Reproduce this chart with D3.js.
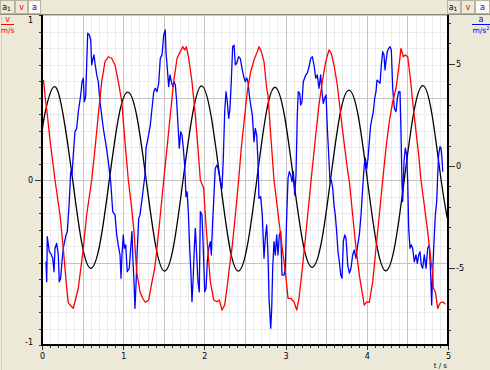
<!DOCTYPE html>
<html lang="en">
<head>
<meta charset="utf-8">
<script src="https://d3js.org/d3.v7.min.js"></script>
<style>
  body { margin: 0; background: #ece9d8; }
  text { font-family: "DejaVu Sans", sans-serif; font-size: 8px; }
  .grid-minor { stroke: #ebebeb; shape-rendering: crispEdges; }
  .grid-major { stroke: #c4c4c4; shape-rendering: crispEdges; }
  .axis line { stroke: #333; shape-rendering: crispEdges; }
  .axis path { display: none; }
  .frame { stroke: black; stroke-width: 2; shape-rendering: crispEdges; }
  .tab { stroke: #b9b5a0; shape-rendering: crispEdges; }
  .series { fill: none; stroke-width: 1.3; stroke-linejoin: round; }
</style>
</head>
<body>
<svg width="490" height="370" id="svg-container"></svg>
<script>
// time axis (s)
const timeTicks = [0, 1, 2, 3, 4, 5];
// left axis v (m/s), right axis a (m/s^2)
const vLabels = [-1, 0, 1];
const aLabels = [-5, 0, 5];

// v(t), red
const vData = [[0.018,0.606],[0.043,0.485],[0.062,0.412],[0.099,0.242],[0.160,0.000],[0.222,-0.212],[0.262,-0.414],[0.304,-0.655],[0.324,-0.745],[0.366,-0.768],[0.385,-0.778],[0.406,-0.738],[0.447,-0.656],[0.509,-0.414],[0.550,-0.212],[0.612,0],[0.653,0.192],[0.693,0.394],[0.735,0.596],[0.776,0.717],[0.817,0.747],[0.858,0.738],[0.899,0.697],[0.940,0.596],[0.982,0.475],[1.022,0.232],[1.063,0],[1.105,-0.172],[1.133,-0.313],[1.166,-0.556],[1.207,-0.677],[1.240,-0.717],[1.272,-0.741],[1.314,-0.727],[1.355,-0.616],[1.388,-0.535],[1.416,-0.414],[1.457,-0.212],[1.499,0],[1.539,0.192],[1.580,0.394],[1.622,0.596],[1.663,0.738],[1.703,0.778],[1.733,0.808],[1.757,0.788],[1.777,0.808],[1.807,0.738],[1.847,0.596],[1.888,0.394],[1.921,0.192],[1.950,0],[1.991,-0.050],[2.011,-0.212],[2.041,-0.414],[2.073,-0.616],[2.115,-0.727],[2.155,-0.738],[2.184,-0.727],[2.217,-0.788],[2.250,-0.758],[2.278,-0.656],[2.307,-0.535],[2.340,-0.414],[2.381,-0.212],[2.422,0],[2.454,0.192],[2.484,0.333],[2.528,0.535],[2.570,0.656],[2.611,0.727],[2.651,0.778],[2.672,0.808],[2.701,0.778],[2.734,0.717],[2.767,0.556],[2.783,0.515],[2.817,0.273],[2.857,0],[2.890,-0.132],[2.919,-0.253],[2.959,-0.414],[3.001,-0.576],[3.030,-0.717],[3.063,-0.717],[3.103,-0.738],[3.137,-0.788],[3.165,-0.717],[3.206,-0.535],[3.248,-0.333],[3.288,-0.132],[3.329,0.071],[3.371,0.273],[3.411,0.455],[3.452,0.596],[3.494,0.717],[3.534,0.788],[3.563,0.768],[3.596,0.697],[3.637,0.576],[3.679,0.394],[3.719,0.232],[3.760,0.071],[3.785,-0.010],[3.826,-0.212],[3.867,-0.414],[3.908,-0.576],[3.941,-0.677],[3.969,-0.758],[3.999,-0.738],[4.031,-0.741],[4.073,-0.616],[4.113,-0.414],[4.154,-0.212],[4.196,0],[4.236,0.192],[4.277,0.353],[4.319,0.475],[4.360,0.556],[4.393,0.677],[4.421,0.798],[4.450,0.747],[4.474,0.758],[4.504,0.747],[4.532,0.636],[4.565,0.475],[4.606,0.293],[4.639,0.152],[4.667,0],[4.708,-0.152],[4.750,-0.313],[4.791,-0.495],[4.811,-0.556],[4.819,-0.656],[4.844,-0.677],[4.873,-0.778],[4.901,-0.747],[4.935,-0.738],[4.967,-0.753]];

// a(t), blue, measured acceleration
const aData = [[0.049,-4.68],[0.058,-5.66],[0.065,-3.46],[0.090,-4.19],[0.107,-4.27],[0.132,-4.51],[0.148,-5.17],[0.160,-4.02],[0.181,-3.78],[0.201,-4.35],[0.213,-5.66],[0.230,-5.49],[0.246,-4.68],[0.262,-4.02],[0.296,-3.37],[0.312,-3.21],[0.336,-1.74],[0.353,-0.28],[0.369,-0.44],[0.385,0.54],[0.406,1.68],[0.427,1.84],[0.447,2.65],[0.459,2.98],[0.477,3.47],[0.493,4.12],[0.509,4.29],[0.521,3.14],[0.538,3.39],[0.550,4.94],[0.563,6.49],[0.583,6.40],[0.600,6.16],[0.612,4.94],[0.624,5.18],[0.640,5.43],[0.653,5.02],[0.674,4.45],[0.693,4.12],[0.714,3.14],[0.735,2.49],[0.755,1.84],[0.788,1.03],[0.817,0.21],[0.846,-0.77],[0.871,-2.23],[0.899,-2.39],[0.920,-3.37],[0.945,-4.02],[0.961,-4.35],[0.973,-5.49],[0.985,-4.35],[1.001,-3.37],[1.014,-4.02],[1.031,-3.86],[1.050,-5.17],[1.075,-5.00],[1.092,-4.02],[1.108,-3.21],[1.121,-4.68],[1.133,-5.66],[1.145,-6.96],[1.161,-5.49],[1.174,-4.02],[1.191,-2.56],[1.207,-2.39],[1.228,-1.74],[1.248,-1.09],[1.268,-0.44],[1.281,0.87],[1.305,1.35],[1.334,2.00],[1.355,2.82],[1.376,3.63],[1.395,3.80],[1.416,3.63],[1.437,4.04],[1.457,5.26],[1.478,5.43],[1.499,6.40],[1.518,6.65],[1.527,5.59],[1.543,4.78],[1.560,3.88],[1.576,4.45],[1.593,4.12],[1.610,3.88],[1.626,4.12],[1.642,3.96],[1.659,3.14],[1.675,2.00],[1.691,0.87],[1.708,1.68],[1.724,1.52],[1.740,0.87],[1.757,0.05],[1.773,-1.50],[1.786,-1.26],[1.802,-2.23],[1.819,-4.02],[1.835,-5.33],[1.847,-6.63],[1.860,-5.66],[1.876,-4.02],[1.888,-3.05],[1.905,-4.35],[1.921,-5.66],[1.937,-6.15],[1.950,-2.23],[1.970,-2.39],[1.986,-4.02],[2.004,-6.15],[2.020,-5.98],[2.036,-4.68],[2.053,-4.02],[2.073,-3.70],[2.085,-4.35],[2.102,-2.72],[2.118,-1.42],[2.134,-0.11],[2.155,0.05],[2.176,-0.28],[2.196,-0.77],[2.217,-1.09],[2.233,0.38],[2.250,2.65],[2.266,3.63],[2.282,3.14],[2.299,2.33],[2.315,2.82],[2.331,4.12],[2.348,5.83],[2.365,5.91],[2.381,4.94],[2.398,5.02],[2.422,5.34],[2.442,5.26],[2.463,4.78],[2.484,4.36],[2.504,4.12],[2.521,4.30],[2.537,4.12],[2.553,3.47],[2.570,2.98],[2.590,2.49],[2.611,1.19],[2.627,1.84],[2.644,1.52],[2.660,0.21],[2.672,-1.58],[2.693,-1.50],[2.713,-2.39],[2.734,-4.51],[2.750,-3.53],[2.767,-2.88],[2.783,-4.35],[2.796,-6.47],[2.817,-7.93],[2.829,-6.96],[2.841,-5.00],[2.857,-3.70],[2.873,-4.35],[2.890,-3.37],[2.906,-4.35],[2.923,-3.37],[2.940,-3.21],[2.956,-5.33],[2.980,-5.33],[2.996,-5.00],[3.014,-2.39],[3.030,-0.60],[3.046,-0.28],[3.063,-0.44],[3.079,-0.77],[3.095,-0.28],[3.112,-1.42],[3.128,-0.44],[3.144,2.49],[3.156,3.63],[3.174,3.55],[3.186,2.98],[3.202,3.14],[3.218,4.12],[3.248,4.45],[3.267,4.53],[3.288,4.85],[3.309,5.26],[3.329,5.34],[3.350,4.94],[3.371,4.29],[3.390,4.45],[3.411,3.80],[3.432,4.45],[3.448,3.63],[3.464,3.06],[3.481,3.31],[3.498,3.47],[3.514,1.84],[3.531,0.54],[3.547,-0.77],[3.563,-0.68],[3.580,-1.09],[3.596,-1.91],[3.612,-2.39],[3.629,-3.21],[3.645,-4.19],[3.662,-4.68],[3.679,-5.33],[3.695,-5.49],[3.711,-3.70],[3.728,-3.37],[3.744,-3.53],[3.765,-4.84],[3.785,-5.24],[3.805,-5.00],[3.826,-4.35],[3.846,-4.11],[3.867,-4.51],[3.888,-3.86],[3.908,-3.37],[3.929,-2.39],[3.949,-1.09],[3.969,0.05],[3.982,0.38],[3.999,-0.11],[4.015,0.38],[4.031,1.19],[4.048,2.00],[4.064,2.33],[4.080,2.65],[4.097,3.31],[4.113,3.63],[4.126,4.20],[4.146,4.12],[4.163,4.04],[4.179,4.94],[4.196,5.59],[4.212,5.43],[4.224,4.69],[4.236,5.10],[4.253,5.59],[4.270,5.75],[4.286,5.83],[4.302,5.67],[4.319,3.80],[4.339,2.82],[4.360,2.65],[4.376,3.31],[4.393,3.63],[4.409,3.63],[4.421,1.68],[4.433,-0.77],[4.442,-1.74],[4.458,0.21],[4.474,0.87],[4.491,0.54],[4.504,-0.77],[4.516,-3.05],[4.532,-4.02],[4.548,-3.86],[4.565,-4.02],[4.585,-4.68],[4.606,-4.35],[4.622,-4.76],[4.639,-4.35],[4.655,-4.19],[4.671,-4.84],[4.688,-5.00],[4.708,-4.35],[4.729,-5.00],[4.750,-4.02],[4.770,-3.86],[4.787,-5.33],[4.799,-6.79],[4.811,-5.17],[4.828,-3.70],[4.844,-2.39],[4.861,-1.74],[4.873,-0.44],[4.885,0.54],[4.901,0.94],[4.914,0.87],[4.926,0.38],[4.935,-0.28]];

// a1(t), black, smooth model curve (drawn on the v scale)
const a1Data = [[0,0.29],[0.035,0.40],[0.148,0.565],[0.262,0.39],[0.375,0.01],[0.489,-0.38],[0.602,-0.535],[0.716,-0.38],[0.829,0.0],[0.943,0.38],[1.056,0.532],[1.170,0.38],[1.283,0.0],[1.397,-0.39],[1.510,-0.552],[1.624,-0.39],[1.737,0.0],[1.851,0.39],[1.964,0.570],[2.078,0.40],[2.191,0.01],[2.305,-0.39],[2.418,-0.552],[2.532,-0.39],[2.645,0.0],[2.759,0.40],[2.872,0.562],[2.986,0.39],[3.099,0.0],[3.213,-0.38],[3.326,-0.529],[3.440,-0.38],[3.553,0.0],[3.667,0.39],[3.780,0.545],[3.894,0.39],[4.007,0.0],[4.121,-0.39],[4.234,-0.550],[4.348,-0.39],[4.461,0.0],[4.575,0.40],[4.688,0.572],[4.802,0.40],[4.915,0.0],[4.99,-0.23]];

let svg = d3.select("svg#svg-container");
const W = 490, H = 370;
const plot = { left: 42, right: 448, top: 15, bottom: 345 };

const x = d3.scaleLinear().domain([0, 5]).range([plot.left, plot.right]);
const yV = d3.scaleLinear().domain([-1, 1]).range([plot.bottom, plot.top]);
const yA = d3.scaleLinear().domain([-8.75, 7.38]).range([plot.bottom, plot.top]);

svg.append("rect").attr("width", W).attr("height", H).attr("fill", "#ece9d8");
svg.append("line").attr("x1", 1.5).attr("x2", 1.5).attr("y1", 15).attr("y2", H)
  .attr("stroke", "#d6d2bd");
svg.append("rect")
  .attr("x", plot.left).attr("y", plot.top)
  .attr("width", plot.right - plot.left).attr("height", plot.bottom - plot.top)
  .attr("fill", "white");

// grid
const grid = svg.append("g");
const tMinor = d3.range(0, 51).map(i => i / 10);
const vMinor = d3.range(-10, 11).map(i => i / 10);
grid.selectAll(".gx").data(tMinor).enter().append("line")
  .attr("class", d => Math.round(d * 10) % 5 === 0 ? "grid-major" : "grid-minor")
  .attr("x1", d => Math.round(x(d)) + 0.5).attr("x2", d => Math.round(x(d)) + 0.5)
  .attr("y1", plot.top).attr("y2", plot.bottom);
grid.selectAll(".gy").data(vMinor).enter().append("line")
  .attr("class", d => Math.round(d * 10) % 5 === 0 ? "grid-major" : "grid-minor")
  .attr("x1", plot.left).attr("x2", plot.right)
  .attr("y1", d => Math.round(yV(d)) + 0.5).attr("y2", d => Math.round(yV(d)) + 0.5);
grid.selectAll(".grid-major").raise();

// series
svg.append("clipPath").attr("id", "clip").append("rect")
  .attr("x", plot.left).attr("y", plot.top)
  .attr("width", plot.right - plot.left).attr("height", plot.bottom - plot.top);
const lines = svg.append("g").attr("clip-path", "url(#clip)");

lines.append("path").datum(a1Data).attr("class", "series").attr("stroke", "black")
  .attr("d", d3.line().x(d => x(d[0])).y(d => yV(d[1])).curve(d3.curveNatural));
lines.append("path").datum(aData).attr("class", "series").attr("stroke", "#0000ff")
  .attr("d", d3.line().x(d => x(d[0])).y(d => yA(d[1])));
lines.append("path").datum(vData).attr("class", "series").attr("stroke", "#ff0000")
  .attr("d", d3.line().x(d => x(d[0])).y(d => yV(d[1])));

// axes
const fmt = d => String(d);
svg.append("g").attr("class", "axis").attr("transform", `translate(${plot.left},0)`)
  .call(d3.axisLeft(yV).tickValues(vMinor).tickSize(3).tickFormat(""));
const leftMajor = svg.append("g").attr("class", "axis").attr("transform", `translate(${plot.left},0)`)
  .call(d3.axisLeft(yV).tickValues(vLabels).tickSize(7).tickPadding(2).tickFormat(fmt));
leftMajor.selectAll(".tick").filter(d => d !== 0).select("line").remove();
leftMajor.selectAll(".tick").filter(d => d === 1).select("text").attr("dy", "0.9em");
leftMajor.selectAll(".tick").filter(d => d === -1).select("text").attr("dy", "-0.1em");

svg.append("g").attr("class", "axis").attr("transform", `translate(0,${plot.bottom})`)
  .call(d3.axisBottom(x).tickValues(tMinor).tickSize(3).tickFormat(""));
svg.append("g").attr("class", "axis").attr("transform", `translate(0,${plot.bottom})`)
  .call(d3.axisBottom(x).tickValues(timeTicks).tickSize(5).tickPadding(3).tickFormat(fmt));

svg.append("g").attr("class", "axis").attr("transform", `translate(${plot.right},0)`)
  .call(d3.axisRight(yA).tickValues(d3.range(-8, 8)).tickSize(3).tickFormat(""));
svg.append("g").attr("class", "axis").attr("transform", `translate(${plot.right},0)`)
  .call(d3.axisRight(yA).tickValues(aLabels).tickSize(7).tickPadding(1).tickFormat(fmt));

svg.selectAll(".axis text").attr("fill", "black").style("font-size", "8px");

// frame
svg.append("line").attr("class", "frame").attr("x1", plot.left).attr("x2", plot.left)
  .attr("y1", plot.top).attr("y2", plot.bottom + 1);
svg.append("line").attr("class", "frame").attr("x1", plot.right).attr("x2", plot.right)
  .attr("y1", plot.top).attr("y2", plot.bottom + 1);
svg.append("line").attr("class", "frame").attr("x1", plot.left).attr("x2", plot.right + 1)
  .attr("y1", plot.bottom).attr("y2", plot.bottom);

svg.append("text").attr("x", 447).attr("y", 368).attr("text-anchor", "end")
  .style("font-size", "7px").text("t / s");

// tab bar
const bar = svg.append("g");
bar.append("rect").attr("width", W).attr("height", 14).attr("fill", "#ece9d8");
bar.append("line").attr("x1", 0).attr("x2", W).attr("y1", 14.5).attr("y2", 14.5)
  .attr("stroke", "#8f8c7e");
const tabs = [
  { x: 0, w: 15, name: "a", sub: "1", color: "black", active: false },
  { x: 15, w: 13, name: "v", color: "red", active: false },
  { x: 28, w: 13, name: "a", color: "blue", active: true },
  { x: 447, w: 14, name: "a", sub: "1", color: "black", active: false },
  { x: 461, w: 14, name: "v", color: "red", active: false },
  { x: 475, w: 15, name: "a", color: "blue", active: true }
];
tabs.forEach(t => {
  bar.append("rect").attr("class", "tab").attr("x", t.x + 0.5).attr("y", 0.5)
    .attr("width", t.w - 1).attr("height", 13)
    .attr("fill", t.active ? "#fbfbf8" : "#ece9d8");
  const label = bar.append("text").attr("x", t.x + t.w / 2 - (t.sub ? 1 : 0)).attr("y", 10)
    .attr("text-anchor", "middle").attr("fill", t.color).style("font-size", "8px").text(t.name);
  if (t.sub) label.append("tspan").attr("dy", 1).style("font-size", "6px").text(t.sub);
});

// unit labels
function unit(cx, x1, x2, name, color, sup) {
  svg.append("text").attr("x", cx).attr("y", 22).attr("text-anchor", "middle")
    .attr("fill", color).style("font-size", "8px").text(name);
  svg.append("line").attr("x1", x1).attr("x2", x2).attr("y1", 24.5).attr("y2", 24.5)
    .attr("stroke", color);
  const u = svg.append("text").attr("x", cx).attr("y", 32.5).attr("text-anchor", "middle")
    .attr("fill", color).style("font-size", "7.5px").text("m/s");
  if (sup) u.append("tspan").attr("dy", -3).style("font-size", "5px").text(sup);
}
unit(7.5, 1, 14, "v", "red");
unit(481, 472, 490, "a", "blue", "2");
</script>
</body>
</html>
